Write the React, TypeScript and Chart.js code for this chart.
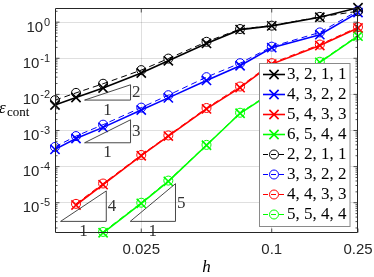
import React, { useEffect, useRef } from 'react';
import { Chart, registerables } from 'chart.js';

Chart.register(...registerables);

// ---- data ----
const hValues = [0.01, 0.0125, 0.016667, 0.025, 0.033333, 0.05, 0.071429, 0.1, 0.166667, 0.25];

const cross3211 = [5.07e-3, 8.2e-3, 1.5e-2, 3.9e-2, 8.5e-2, 0.257, 0.62, 0.79, 1.37, 2.5];
const cross4322 = [3.0e-4, 6.0e-4, 1.22e-3, 3.7e-3, 8.0e-3, 2.43e-2, 6.2e-2, 0.196, 0.45, 1.84];
const cross5433 = [null, 8.65e-6, 3.16e-5, 2.0e-4, 7.0e-4, 3.95e-3, 1.53e-2, 6.9e-2, 0.226, 0.69];
const cross6544 = [null, null, 1.47e-6, 9.6e-6, 3.9e-5, 3.9e-4, 3.0e-3, 1.1e-2, 7.7e-2, 0.41];
const circle2211 = [6.9e-3, 1.1e-2, 1.97e-2, 4.7e-2, 9.8e-2, 0.286, 0.645, 0.8, 1.4, 2.0];
const circle3322 = [3.5e-4, 7.0e-4, 1.45e-3, 4.3e-3, 9.5e-3, 3.0e-2, 7.3e-2, 0.21, 0.52, 2.08];
const circle4433 = [null, 9.3e-6, 3.4e-5, 2.1e-4, 7.3e-4, 4.2e-3, 1.65e-2, 7.3e-2, 0.24, 0.73];
const circle5544 = [null, null, 1.55e-6, 1.0e-5, 4.1e-5, 4.0e-4, 3.1e-3, 1.15e-2, 8.0e-2, 0.43];

const seriesLabels = ['3, 2, 1, 1', '4, 3, 2, 2', '5, 4, 3, 3', '6, 5, 4, 4', '2, 2, 1, 1', '3, 3, 2, 2', '4, 4, 3, 3', '5, 5, 4, 4'];
const seriesValues = [cross3211, cross4322, cross5433, cross6544, circle2211, circle3322, circle4433, circle5544];
const seriesKinds = ['cross', 'cross', 'cross', 'cross', 'circle', 'circle', 'circle', 'circle'];
const seriesColors = ['#000000', '#0000ff', '#ff0000', '#00ff00', '#000000', '#0000ff', '#ff0000', '#00ff00'];

const xTickValues = [0.025, 0.1, 0.25];
const xTickLabels = ['0.025', '0.1', '0.25'];
const yTickExponents = [0, -1, -2, -3, -4, -5];

// slope triangles in data coordinates: left h, right h, bottom value, slope
const triH0 = [0.01369, 0.01369, 0.01061, 0.02224];
const triH1 = [0.02231, 0.02231, 0.01724, 0.03597];
const triV0 = [6.95e-3, 4.57e-4, 3.04e-6, 3.04e-6];
const triSlope = [2, 3, 4, 5];

const X_MIN = 0.01, X_MAX = 0.25, Y_MIN = 1.45e-6, Y_MAX = 2.45;

const GRID = 'rgba(38,38,38,0.15)';
const AXIS = '#262626';
const SANS = '"Liberation Sans", Arial, sans-serif';
const SERIF = '"Liberation Serif", "Times New Roman", serif';

function drawMarker(ctx: CanvasRenderingContext2D, kind: string, cx: number, cy: number, color: string) {
  ctx.save();
  ctx.strokeStyle = color;
  ctx.setLineDash([]);
  if (kind === 'cross') {
    const d = 6.5 * Math.SQRT1_2;
    ctx.lineWidth = 1.6;
    ctx.beginPath();
    ctx.moveTo(cx - d, cy - d); ctx.lineTo(cx + d, cy + d);
    ctx.moveTo(cx - d, cy + d); ctx.lineTo(cx + d, cy - d);
    ctx.stroke();
  } else {
    ctx.lineWidth = 1;
    ctx.beginPath();
    ctx.arc(cx, cy, 4.5, 0, Math.PI * 2);
    ctx.stroke();
  }
  ctx.restore();
}

const decorPlugin = {
  id: 'decor',
  afterDraw(chart: any) {
    const { ctx, chartArea } = chart;
    const { left, right, top, bottom } = chartArea;
    const xs = chart.scales.x;
    const ys = chart.scales.y;
    ctx.save();

    // slope triangles
    ctx.strokeStyle = '#333333';
    ctx.lineWidth = 0.9;
    ctx.fillStyle = '#333333';
    ctx.font = `17px ${SERIF}`;
    for (let i = 0; i < triSlope.length; i++) {
      const x0 = xs.getPixelForValue(triH0[i]);
      const x1 = xs.getPixelForValue(triH1[i]);
      const yb = ys.getPixelForValue(triV0[i]);
      const yt = ys.getPixelForValue(triV0[i] * Math.pow(triH1[i] / triH0[i], triSlope[i]));
      ctx.beginPath();
      ctx.moveTo(x0, yb); ctx.lineTo(x1, yb); ctx.lineTo(x1, yt); ctx.closePath();
      ctx.stroke();
      ctx.textAlign = 'left';
      ctx.textBaseline = 'middle';
      ctx.fillText(String(triSlope[i]), x1 + 1.5, (yb + yt) / 2 + 0.5);
      ctx.textAlign = 'center';
      ctx.textBaseline = 'alphabetic';
      ctx.fillText('1', (x0 + x1) / 2, yb + 14.5);
    }

    // axes box
    ctx.strokeStyle = AXIS;
    ctx.lineWidth = 1;
    const L = Math.round(left) + 0.5, R = Math.round(right) - 0.5, T = Math.round(top) + 0.5, B = Math.round(bottom) - 0.5;
    ctx.beginPath();
    ctx.rect(L, T, R - L, B - T);
    ctx.stroke();

    // inward ticks
    ctx.lineWidth = 0.8;
    ctx.beginPath();
    for (const t of ys.ticks) {
      const py = ys.getPixelForValue(t.value);
      const lg = Math.log10(t.value);
      const major = Math.abs(lg - Math.round(lg)) < 1e-6;
      const len = major ? 4 : 2;
      ctx.moveTo(L, py); ctx.lineTo(L + len, py);
      ctx.moveTo(R, py); ctx.lineTo(R - len, py);
    }
    for (const v of xTickValues) {
      const px = xs.getPixelForValue(v);
      ctx.moveTo(px, B); ctx.lineTo(px, B - 4);
      ctx.moveTo(px, T); ctx.lineTo(px, T + 4);
    }
    ctx.stroke();

    // y tick labels with superscripts
    ctx.fillStyle = AXIS;
    ctx.textBaseline = 'alphabetic';
    ctx.textAlign = 'left';
    for (const e of yTickExponents) {
      const py = ys.getPixelForValue(Math.pow(10, e));
      const sup = String(e);
      ctx.font = `11px ${SANS}`;
      const sw = ctx.measureText(sup).width;
      ctx.font = `15px ${SANS}`;
      const bw = ctx.measureText('10').width;
      const xEnd = 50;
      ctx.fillText('10', xEnd - sw - 0.8 - bw, py + 9.4);
      ctx.font = `11px ${SANS}`;
      ctx.fillText(sup, xEnd - sw, py + 3.7);
    }

    // axis titles
    ctx.fillStyle = '#000000';
    ctx.font = `italic 17px ${SERIF}`;
    ctx.textAlign = 'left';
    ctx.fillText('\u03b5', -1, 113);
    ctx.font = `13px ${SERIF}`;
    ctx.fillText('cont', 7, 115.5);
    ctx.font = `italic 17px ${SERIF}`;
    ctx.textAlign = 'center';
    ctx.fillText('h', (left + right) / 2, 272);

    // legend
    const bx = 259.5, by = 63.5, bw2 = 90.5, bh = 163;
    ctx.fillStyle = '#ffffff';
    ctx.fillRect(bx, by, bw2, bh);
    ctx.strokeStyle = '#8a8a8a';
    ctx.lineWidth = 1;
    ctx.strokeRect(bx, by, bw2, bh);
    ctx.font = `17px ${SERIF}`;
    ctx.textAlign = 'left';
    ctx.textBaseline = 'middle';
    for (let i = 0; i < seriesLabels.length; i++) {
      const cy = 74.5 + 20 * i;
      const kind = seriesKinds[i];
      const color = seriesColors[i];
      ctx.save();
      ctx.strokeStyle = color;
      if (kind === 'cross') {
        ctx.lineWidth = 1.6;
        ctx.setLineDash([]);
      } else {
        ctx.lineWidth = 1;
        ctx.setLineDash([5, 3]);
      }
      ctx.beginPath();
      ctx.moveTo(263, cy); ctx.lineTo(285, cy);
      ctx.stroke();
      ctx.restore();
      drawMarker(ctx, kind, 274, cy, color);
      ctx.fillStyle = '#000000';
      ctx.fillText(seriesLabels[i], 287, cy + 0.5);
    }

    ctx.restore();
  },
};

function isMajorLog(v: number) {
  const lg = Math.log10(v);
  return Math.abs(lg - Math.round(lg)) < 1e-6;
}

export default function App() {
  const canvasRef = useRef<HTMLCanvasElement | null>(null);

  useEffect(() => {
    document.body.style.margin = '0';
    const canvas = canvasRef.current;
    if (!canvas) return;

    const datasets = seriesValues.map((vals, i) => {
      const cross = seriesKinds[i] === 'cross';
      const pts: { x: number; y: number }[] = [];
      hValues.forEach((h, j) => {
        const v = vals[j];
        if (v !== null && v !== undefined) pts.push({ x: h, y: v as number });
      });
      return {
        label: seriesLabels[i],
        data: pts,
        borderColor: seriesColors[i],
        backgroundColor: 'transparent',
        borderWidth: cross ? 1.6 : 1,
        borderDash: cross ? [] : [6, 4],
        pointStyle: cross ? 'crossRot' : 'circle',
        pointRadius: cross ? 6.5 : 4.5,
        pointBorderWidth: cross ? 1.6 : 1,
        pointBorderColor: seriesColors[i],
        pointBackgroundColor: 'transparent',
        tension: 0,
        clip: false as any,
        order: cross ? 1 : 0,
      };
    });

    const chart = new Chart(canvas, {
      type: 'line',
      data: { datasets: datasets as any },
      options: {
        animation: false,
        responsive: false,
        maintainAspectRatio: false,
        events: [],
        layout: { padding: { top: 5, right: 16, left: 0, bottom: 0 } },
        plugins: { legend: { display: false }, tooltip: { enabled: false } },
        scales: {
          x: {
            type: 'logarithmic',
            min: X_MIN,
            max: X_MAX,
            afterBuildTicks: (s: any) => {
              s.ticks = xTickValues.map((v) => ({ value: v }));
            },
            afterFit: (s: any) => {
              s.height = 44;
            },
            ticks: {
              callback: (_v: any, i: number) => xTickLabels[i],
              font: { family: SANS, size: 15 },
              color: AXIS,
              padding: 0,
              maxRotation: 0,
              autoSkip: false,
            },
            grid: {
              color: (c: any) => (c.tick && c.tick.value < X_MAX ? GRID : 'transparent'),
              lineWidth: 1,
              drawTicks: true,
              tickLength: 8,
              tickColor: 'transparent',
            },
            border: { display: false },
          },
          y: {
            type: 'logarithmic',
            min: Y_MIN,
            max: Y_MAX,
            afterBuildTicks: (s: any) => {
              const t: { value: number }[] = [];
              for (let e = -7; e <= 1; e++) {
                for (let k = 1; k <= 9; k++) {
                  const v = k * Math.pow(10, e);
                  if (v >= Y_MIN && v <= Y_MAX) t.push({ value: v });
                }
              }
              s.ticks = t;
            },
            afterFit: (s: any) => {
              s.width = 55;
            },
            ticks: { display: false },
            grid: {
              color: (c: any) => (c.tick && isMajorLog(c.tick.value) ? GRID : 'transparent'),
              lineWidth: 1,
              drawTicks: false,
            },
            border: { display: false },
          },
        },
      } as any,
      plugins: [decorPlugin],
    });

    return () => {
      chart.destroy();
    };
  }, []);

  return (
    <div style={{ width: 374, height: 277 }}>
      <canvas ref={canvasRef} width={374} height={277} style={{ display: 'block' }} />
    </div>
  );
}
